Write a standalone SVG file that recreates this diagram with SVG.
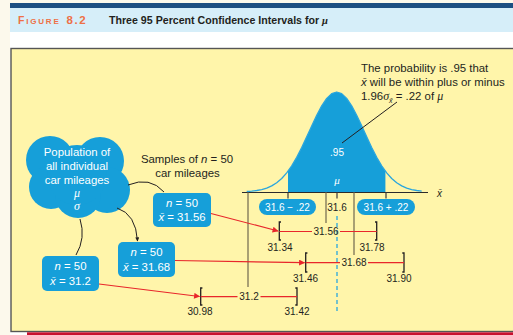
<svg xmlns="http://www.w3.org/2000/svg" width="513" height="335" viewBox="0 0 513 335">
<defs>
<style>
text{font-family:"Liberation Sans",Arial,sans-serif;fill:#231f20}
.w{fill:#fff}
.lbl{font-size:11.4px}
.num{font-size:10px;text-anchor:middle}
.gr{font-family:"Liberation Serif",serif;font-style:italic;font-size:12px}
.box{fill:#169fd9}
.blk{fill:none;stroke:#231f20;stroke-width:1}
.red{fill:none;stroke:#e8262b;stroke-width:1.2}
.brk{fill:none;stroke:#231f20;stroke-width:1.3}
.vl{stroke:#857c5c;stroke-width:1.4}
.tk{stroke:#3a3a3a;stroke-width:1.2}
</style>
<marker id="ar" viewBox="0 0 10 10" refX="9" refY="5" markerWidth="8" markerHeight="6" orient="auto" markerUnits="userSpaceOnUse"><path d="M0,0 L10,5 L0,10 z" fill="#e8262b"/></marker>
<marker id="ab" viewBox="0 0 10 10" refX="9" refY="5" markerWidth="5" markerHeight="4" orient="auto" markerUnits="userSpaceOnUse"><path d="M0,0 L10,5 L0,10 z" fill="#231f20"/></marker>
</defs>
<rect x="0" y="0" width="513" height="335" fill="#ffffff"/>
<rect x="0" y="0" width="10" height="335" fill="#fcf9ec"/>
<rect x="10" y="0" width="503" height="3" fill="#fcf9ec"/>
<rect x="10" y="3" width="503" height="5" fill="#1d4f82"/>
<rect x="10" y="8" width="503" height="24" fill="#d6eef9"/>
<text x="18" y="23.5" style="font-size:10.5px;font-weight:bold;fill:#ee7046;letter-spacing:1.8px">F<tspan style="font-size:8px">IGURE</tspan><tspan dx="6" style="font-size:11.5px;letter-spacing:1.5px">8.2</tspan></text>
<text x="109" y="23.5" textLength="219" lengthAdjust="spacingAndGlyphs" style="font-size:10.5px;font-weight:bold">Three 95 Percent Confidence Intervals for <tspan style="font-family:'Liberation Serif',serif;font-style:italic">μ</tspan></text>
<rect x="11" y="48.5" width="510" height="283" fill="#fff5aa" stroke="#555" stroke-width="1.4"/>
<rect x="27" y="332.3" width="486" height="3" fill="#c8102e"/>

<g id="curve">
<path d="M288,192.5 L288,171.2 L291.7,165.8 L296.7,157.3 L301.7,147.5 L306.7,136.8 L311.7,125.9 L316.7,115.2 L321.7,105.8 L326.7,98.4 L331.7,93.6 L336.7,92 L341.7,93.6 L346.7,98.4 L351.7,105.8 L356.7,115.2 L361.7,125.9 L366.7,136.8 L371.7,147.5 L376.7,157.3 L381.7,165.8 L385.4,171.2 L385.4,192.5 Z" fill="#169fd9"/>
<path d="M246.7,191.5 L251.7,191.2 L256.7,190.5 L261.7,189.6 L266.7,188.1 L271.7,185.9 L276.7,182.7 L281.7,178.5 L286.7,172.9 L291.7,165.8 L296.7,157.3 L301.7,147.5 L306.7,136.8 L311.7,125.9 L316.7,115.2 L321.7,105.8 L326.7,98.4 L331.7,93.6 L336.7,92 L341.7,93.6 L346.7,98.4 L351.7,105.8 L356.7,115.2 L361.7,125.9 L366.7,136.8 L371.7,147.5 L376.7,157.3 L381.7,165.8 L386.7,172.9 L391.7,178.5 L396.7,182.7 L401.7,185.9 L406.7,188.1 L411.7,189.6 L416.7,190.5 L421.7,191.2" fill="none" stroke="#2aa6de" stroke-width="1.3" stroke-linejoin="round"/>
<text x="337" y="155.5" class="num w">.95</text>
<text x="337" y="184" class="num w gr" style="font-size:11px">μ</text>
<line x1="242" y1="192.5" x2="428" y2="192.5" stroke="#2b2b2b" stroke-width="1.2"/>
<text x="437" y="196.5" style="font-size:10px;font-style:italic">x̄</text>
</g>

<g id="note">
<line x1="342" y1="143" x2="397" y2="102" stroke="#231f20" stroke-width="1"/>
<text x="361" y="72" class="lbl">The probability is .95 that</text>
<text x="361" y="86" class="lbl"><tspan font-style="italic">x̄</tspan> will be within plus or minus</text>
<text x="361" y="100" class="lbl">1.96<tspan class="gr">σ</tspan><tspan dy="2.5" style="font-size:7px;font-style:italic">x̄</tspan><tspan dy="-2.5"> = .22 of </tspan><tspan class="gr">μ</tspan></text>
</g>

<g id="axis-marks">
<line x1="248" y1="192.5" x2="248" y2="287" class="vl"/>
<line x1="326" y1="192.5" x2="326" y2="223" class="vl"/>
<line x1="354" y1="192.5" x2="354" y2="255" class="vl"/>
<line x1="288" y1="192.5" x2="288" y2="198.5" class="tk"/>
<line x1="337" y1="192.5" x2="337" y2="198.5" class="tk"/>
<line x1="386" y1="192.5" x2="386" y2="198.5" class="tk"/>
<line x1="337" y1="216" x2="337" y2="313" stroke="#2aa6de" stroke-width="1.3" stroke-dasharray="4,3"/>
<rect x="259" y="199" width="57" height="16" rx="8" class="box"/>
<text x="287.5" y="210.5" class="num w">31.6 − .22</text>
<rect x="357" y="199" width="58" height="16" rx="8" class="box"/>
<text x="386" y="210.5" class="num w">31.6 + .22</text>
<text x="337" y="211" class="num">31.6</text>
</g>

<g id="cloud">
<g class="box">
<circle cx="50" cy="160" r="24"/>
<circle cx="100" cy="161" r="24"/>
<circle cx="51" cy="187" r="22"/>
<circle cx="107" cy="190" r="23"/>
<circle cx="78" cy="195" r="23"/>
<circle cx="77" cy="175" r="30"/>
</g>
<text x="77" y="155.5" class="lbl w" text-anchor="middle">Population of</text>
<text x="77" y="170" class="lbl w" text-anchor="middle">all individual</text>
<text x="77" y="183.5" class="lbl w" text-anchor="middle">car mileages</text>
<text x="77" y="197" class="w gr" text-anchor="middle">μ</text>
<text x="77" y="210" class="w gr" text-anchor="middle">σ</text>
</g>

<g id="samples-label">
<text x="187" y="163" class="lbl" text-anchor="middle">Samples of <tspan font-style="italic">n</tspan> = 50</text>
<text x="187.5" y="177" class="lbl" text-anchor="middle">car mileages</text>
</g>

<g id="sample1">
<rect x="153" y="193" width="58" height="34" rx="5" class="box"/>
<text x="182" y="206.5" class="lbl w" text-anchor="middle"><tspan font-style="italic">n</tspan> = 50</text>
<text x="182" y="221" class="lbl w" text-anchor="middle"><tspan font-style="italic">x̄</tspan> = 31.56</text>
</g>
<g id="sample2">
<rect x="118" y="242" width="57" height="35" rx="5" class="box"/>
<text x="146.5" y="256" class="lbl w" text-anchor="middle"><tspan font-style="italic">n</tspan> = 50</text>
<text x="146.5" y="270.5" class="lbl w" text-anchor="middle"><tspan font-style="italic">x̄</tspan> = 31.68</text>
</g>
<g id="sample3">
<rect x="42" y="256" width="57" height="35" rx="5" class="box"/>
<text x="70.5" y="270" class="lbl w" text-anchor="middle"><tspan font-style="italic">n</tspan> = 50</text>
<text x="70.5" y="284.5" class="lbl w" text-anchor="middle"><tspan font-style="italic">x̄</tspan> = 31.2</text>
</g>

<g id="intervals">
<path d="M281,222 h-1.7 v18 h1.7 M375,222 h1.7 v18 h-1.7" class="brk"/>
<path d="M279.3,231.5 H312 M340,231.5 H376.7" class="red"/>
<text x="326" y="235" class="num">31.56</text>
<text x="280" y="251" class="num">31.34</text>
<text x="372" y="251" class="num">31.78</text>
<path d="M307.4,253 h-1.7 v19 h1.7 M402.3,253 h1.7 v19 h-1.7" class="brk"/>
<path d="M305.7,262.7 H340 M368,262.7 H404" class="red"/>
<text x="354" y="266.3" class="num">31.68</text>
<text x="305.5" y="282" class="num">31.46</text>
<text x="399" y="282" class="num">31.90</text>
<path d="M202.4,288 h-1.7 v17 h1.7 M295.3,288 h1.7 v17 h-1.7" class="brk"/>
<path d="M200.7,296.7 H237.5 M260.5,296.7 H297" class="red"/>
<text x="249" y="300.3" class="num">31.2</text>
<text x="200" y="315" class="num">30.98</text>
<text x="297" y="315" class="num">31.42</text>
</g>

<g id="connectors">
<path d="M128,185 Q150,176 164,192" class="blk"/>
<path d="M117,208 Q136,214 137.5,241" class="blk" marker-end="url(#ab)"/>
<path d="M80,219 Q86,238 76,255" class="blk"/>
<path d="M211,213.5 L278,231" class="red" marker-end="url(#ar)"/>
<path d="M175,260.5 L304.5,262.7" class="red" marker-end="url(#ar)"/>
<path d="M99,284 L199.5,296.5" class="red" marker-end="url(#ar)"/>
</g>
</svg>
